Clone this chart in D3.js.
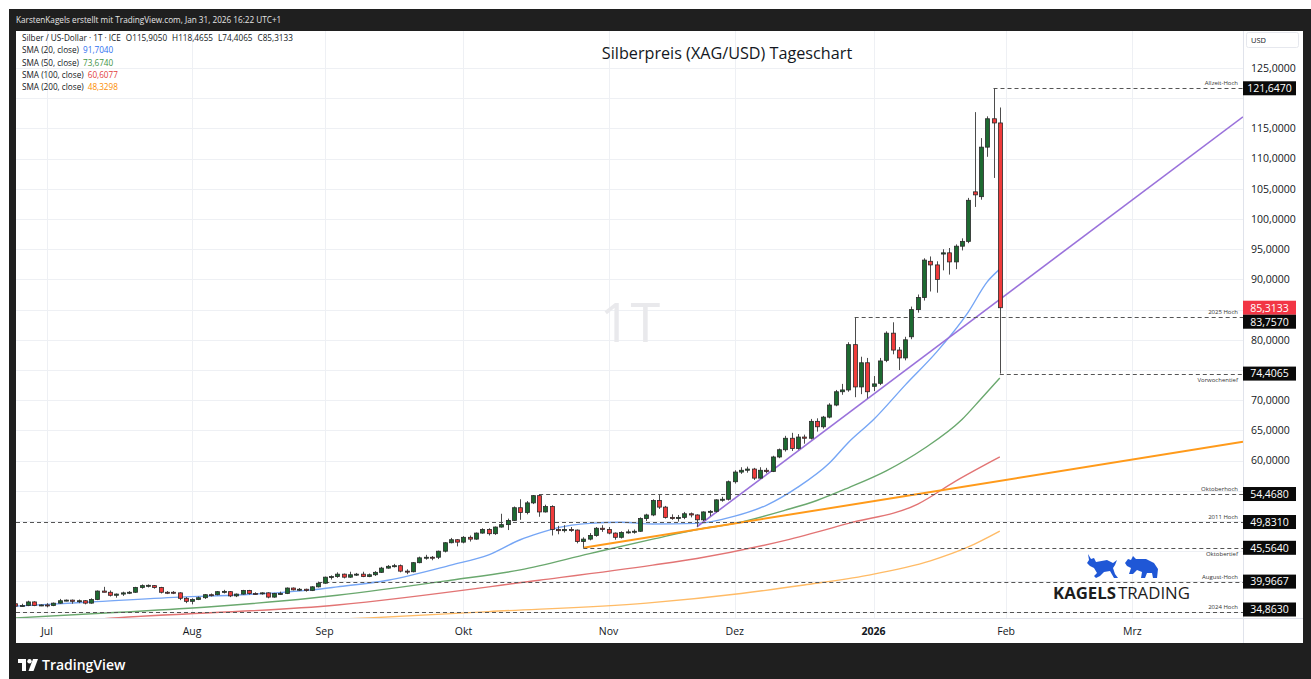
<!DOCTYPE html>
<html lang="de">
<head>
<meta charset="UTF-8">
<title>Silberpreis (XAG/USD) Tageschart</title>
<script src="https://cdn.jsdelivr.net/npm/d3@7"></script>
<style>
  body { margin: 0; background: #ffffff; }
  svg { display: block; font-family: "Open Sans", "Noto Sans", sans-serif; }
</style>
</head>
<body>
<div id="chart"></div>
<script>
// daily candles XAG/USD, Jun 24 2025 .. Jan 30 2026 (weekdays, no Dec 25 / Jan 1)
const opens = [
  36.3, 35.9, 36.0, 36.6, 36.0, 36.1, 36.0, 36.4, 36.8, 36.9,
  36.7, 36.8, 36.4, 37.0, 38.4, 38.2, 37.7, 37.9, 38.1, 38.2,
  39.0, 39.3, 39.3, 39.0, 38.2, 38.2, 38.1, 37.2, 36.7, 37.0,
  37.3, 37.8, 37.8, 38.3, 38.3, 37.6, 37.9, 38.5, 38.0, 38.0,
  38.1, 37.4, 38.0, 38.0, 38.9, 38.6, 38.7, 38.5, 39.1, 39.7,
  40.7, 40.8, 41.2, 40.7, 41.1, 41.2, 40.8, 41.1, 41.5, 42.2,
  42.5, 42.6, 41.7, 41.6, 43.1, 43.9, 44.0, 44.0, 45.0, 46.4,
  46.9, 46.5, 47.3, 47.0, 48.0, 48.6, 47.9, 49.0, 49.4, 50.1,
  52.2, 51.4, 53.0, 54.2, 51.5, 52.4, 48.6, 48.4, 48.6, 48.5,
  46.6, 47.0, 47.6, 48.8, 48.6, 48.0, 47.3, 48.1, 48.2, 48.3,
  50.4, 51.0, 53.4, 52.3, 50.6, 50.4, 50.6, 51.2, 51.0, 50.2,
  51.5, 51.6, 53.5, 53.6, 56.5, 58.1, 58.4, 58.6, 57.1, 58.4,
  58.2, 60.6, 61.8, 63.7, 62.0, 63.9, 63.7, 66.5, 65.6, 67.2,
  69.2, 71.4, 71.7, 79.2, 72.2, 76.2, 72.3, 72.8, 76.6, 81.1,
  78.3, 77.0, 80.5, 85.0, 87.0, 93.0, 92.4, 94.2, 94.4, 92.9,
  95.5, 96.3, 104.5, 103.7, 111.9, 116.6, 115.905
];
const highs = [
  36.4, 36.3, 36.8, 36.7, 36.2, 36.4, 36.5, 37.1, 37.0, 37.0,
  37.0, 36.9, 37.2, 38.5, 39.1, 38.5, 38.0, 38.3, 38.4, 39.1,
  39.5, 39.5, 39.4, 39.1, 38.4, 38.4, 38.2, 37.4, 37.2, 37.5,
  37.9, 38.0, 38.4, 38.6, 38.4, 38.0, 38.6, 38.6, 38.2, 38.2,
  38.2, 38.1, 38.3, 39.0, 39.0, 38.9, 38.8, 39.2, 39.9667, 40.8,
  41.0, 41.5, 41.3, 41.6, 41.4, 41.6, 41.3, 41.7, 42.4, 42.7,
  42.9, 42.8, 42.0, 43.2, 44.1, 44.4, 44.2, 45.1, 46.5, 47.2,
  47.0, 47.5, 47.6, 48.1, 48.8, 48.8, 49.1, 51.2, 50.4, 52.4,
  53.6, 53.3, 54.3, 54.468, 52.7, 52.6, 49.2, 49.3, 49.0, 48.6,
  47.3, 48.0, 49.0, 49.3, 49.0, 48.1, 48.3, 48.6, 48.6, 50.6,
  51.2, 53.6, 54.3, 52.5, 51.1, 51.0, 51.5, 51.4, 51.1, 51.6,
  51.8, 53.6, 54.0, 56.7, 58.4, 58.9, 59.0, 58.8, 58.9, 58.8,
  60.8, 62.0, 64.1, 64.6, 64.4, 64.3, 66.9, 67.0, 67.4, 69.5,
  71.7, 72.7, 79.6, 83.757, 77.2, 77.0, 74.0, 77.0, 81.4, 82.9,
  78.8, 80.5, 85.5, 87.5, 93.5, 93.8, 93.0, 95.0, 95.2, 95.8,
  96.8, 103.5, 117.7, 113.4, 117.0, 121.647, 118.4655
];
const lows = [
  35.8, 35.8, 35.9, 35.9, 35.9, 35.7, 35.9, 36.3, 36.7, 36.3,
  36.4, 36.2, 36.3, 36.9, 38.2, 37.5, 37.3, 37.6, 37.9, 38.1,
  38.8, 39.0, 38.8, 38.0, 37.9, 37.9, 36.9, 36.4, 36.2, 36.9,
  37.1, 37.5, 37.7, 38.0, 37.4, 37.4, 37.8, 37.8, 37.8, 37.8,
  37.2, 37.3, 37.8, 37.9, 38.5, 38.4, 38.3, 38.4, 39.0, 39.6,
  40.3, 40.6, 40.5, 40.6, 40.9, 40.7, 40.7, 40.9, 41.4, 42.1,
  42.3, 41.5, 41.2, 41.5, 43.0, 43.6, 43.5, 43.7, 44.8, 46.3,
  45.8, 46.3, 46.6, 46.9, 47.9, 47.6, 47.7, 48.9, 48.5, 50.0,
  50.2, 51.1, 52.8, 50.7, 51.4, 47.6, 47.8, 48.1, 48.2, 46.3,
  45.564, 46.8, 47.4, 48.2, 47.8, 46.9, 47.1, 47.9, 47.9, 48.2,
  50.0, 50.8, 52.0, 50.4, 50.2, 49.9, 50.3, 50.6, 49.05, 50.0,
  50.8, 51.4, 53.2, 53.4, 56.2, 57.8, 58.0, 56.8, 57.0, 57.9,
  58.1, 60.4, 61.5, 61.6, 61.8, 62.8, 63.5, 64.8, 65.3, 67.0,
  69.0, 70.9, 71.4, 70.5, 71.0, 70.3, 71.5, 72.5, 76.3, 77.6,
  75.0, 76.6, 80.1, 84.5, 86.5, 88.0, 87.8, 91.5, 90.8, 91.7,
  94.8, 96.0, 102.0, 103.2, 110.3, 106.8, 74.4065
];
const closes = [
  35.9, 36.0, 36.6, 36.0, 36.1, 36.0, 36.4, 36.8, 36.9, 36.7,
  36.8, 36.4, 37.0, 38.4, 38.2, 37.7, 37.9, 38.1, 38.2, 39.0,
  39.3, 39.35, 39.0, 38.2, 38.15, 38.1, 37.2, 36.7, 37.0, 37.3,
  37.8, 37.75, 38.3, 38.35, 37.6, 37.9, 38.5, 38.0, 37.95, 38.1,
  37.4, 38.0, 38.0, 38.9, 38.6, 38.7, 38.5, 39.1, 39.7, 40.7,
  40.8, 41.2, 40.7, 41.1, 41.2, 40.8, 41.1, 41.5, 42.2, 42.5,
  42.6, 41.7, 41.6, 43.1, 43.9, 44.0, 43.95, 45.0, 46.4, 46.9,
  46.5, 47.3, 47.0, 48.0, 48.6, 47.9, 49.0, 49.4, 50.1, 52.2,
  51.4, 53.0, 54.2, 51.5, 52.4, 48.6, 48.4, 48.6, 48.5, 46.6,
  47.0, 47.6, 48.8, 48.6, 48.0, 47.3, 48.1, 48.2, 48.3, 50.4,
  51.0, 53.4, 52.3, 50.6, 50.4, 50.6, 51.2, 51.0, 50.2, 51.5,
  51.6, 53.5, 53.6, 56.5, 58.1, 58.4, 58.6, 57.1, 58.4, 58.2,
  60.6, 61.8, 63.7, 62.0, 63.9, 63.7, 66.5, 65.6, 67.2, 69.2,
  71.4, 71.7, 79.2, 72.2, 76.2, 71.4, 72.7, 76.5, 81.1, 78.3,
  77.0, 80.0, 85.0, 87.0, 93.2, 92.4, 90.0, 94.4, 92.9, 95.5,
  96.3, 103.1, 104.0, 111.9, 116.6, 115.905, 85.3133
];
const firstDay = "2025-06-24";
const holidays = ["2025-12-25", "2026-01-01"];

// moving averages: [bar index, value]
const sma20 = [[0,35.9],[12,36.6],[26,37.4],[36,37.8],[47,38.6],[51,39.1],[59,40.2],[69,42.7],[75,44.4],[80,46.9],[83,48.0],[86,48.9],[91,49.6],[96,49.8],[101,49.5],[108,49.6],[114,50.8],[119,52.6],[124,55.6],[129,59.6],[132,63.0],[136,66.8],[141,72.5],[146,78.0],[151,84.6],[154,89.6],[156,91.704]];
const sma50 = [[0,33.95],[15,34.8],[31,35.8],[47,37.25],[51,37.7],[69,40.2],[80,41.9],[91,44.6],[101,47.0],[108,48.6],[114,49.6],[122,51.8],[127,53.4],[132,55.5],[138,58.3],[144,62.0],[150,66.8],[153,70.2],[156,73.674]];
const sma100 = [[0,32.7],[15,33.9],[51,36.1],[83,40.2],[101,42.7],[108,43.8],[122,46.8],[132,49.6],[143,52.8],[149,56.6],[156,60.6077]];
const sma200 = [[40,33.3],[56,33.95],[75,35.0],[100,36.4],[115,38.0],[125,39.4],[135,41.0],[145,43.4],[151,45.7],[156,48.3298]];
const smaNames = ["SMA (20, close)", "SMA (50, close)", "SMA (100, close)", "SMA (200, close)"];

// drawn trend lines: [date, price] anchors
const purpleTrend = [["2025-11-21", 49.05], ["2026-01-30", 86.7]];
const orangeTrend = [["2025-10-28", 45.564], ["2026-01-30", 56.65]];

// marked price levels
const levelPrices = [121.647, 83.757, 74.4065, 54.468, 49.831, 45.564, 39.9667, 34.863];
const levelNames = ["Allzeit-Hoch", "2025 Hoch", "Vorwochentief", "Oktoberhoch", "2011 Hoch", "Oktobertief", "August-Hoch", "2024 Hoch"];
const levelFrom = ["2026-01-29", "2025-12-29", "2026-01-30", "2025-10-17", null, "2025-10-28", "2025-08-29", null];
const levelBelow = [false, false, true, false, false, true, false, false];

const priceTicks = [35, 40, 45, 50, 55, 60, 65, 70, 75, 80, 85, 90, 95, 100, 105, 110, 115, 120, 125];
const monthKeys = ["2025-07", "2025-08", "2025-09", "2025-10", "2025-11", "2025-12", "2026-01", "2026-02", "2026-03"];
const monthLabels = ["Jul", "Aug", "Sep", "Okt", "Nov", "Dez", "2026", "Feb", "Mrz"];

// ---------------------------------------------------------------
const W = 1311, H = 679;
const plot = { x0: 16, x1: 1243, y0: 31, y1: 618 };

const fmtDay = d3.timeFormat("%Y-%m-%d");
const fmtMonth = d3.timeFormat("%Y-%m");
const days = d3.timeDay.range(d3.timeParse("%Y-%m-%d")(firstDay), new Date(2026, 3, 1))
  .filter(d => d.getDay() !== 0 && d.getDay() !== 6 && !holidays.includes(fmtDay(d)));
const idxOf = s => days.findIndex(d => fmtDay(d) === s);

const de = d3.formatLocale({ decimal: ",", thousands: ".", grouping: [3], currency: ["", ""] });
const f4 = de.format(".4f");

// bar 5 (Jul 1) sits at x=47, 6.31px per bar
const x = d3.scaleLinear().domain([0.087, 194.54]).range([plot.x0, plot.x1]);
const y = d3.scaleLinear().domain([33.94, 131.13]).range([plot.y1, plot.y0]);

const svg = d3.select("#chart").append("svg").attr("width", W).attr("height", H);

// frame
svg.append("rect").attr("width", W).attr("height", H).attr("fill", "#ffffff");
svg.append("rect").attr("x", 9).attr("y", 9).attr("width", W - 9).attr("height", H - 9).attr("fill", "#1f1f1f");
svg.append("rect").attr("x", 16).attr("y", 31).attr("width", 1287).attr("height", 612).attr("fill", "#ffffff");

svg.append("text").attr("x", 16).attr("y", 22.5)
  .attr("font-size", 8.2).attr("fill", "#e6e6e6")
  .text("KarstenKagels erstellt mit TradingView.com, Jan 31, 2026 16:22 UTC+1");

svg.append("defs").append("clipPath").attr("id", "clip")
  .append("rect").attr("x", plot.x0).attr("y", plot.y0)
  .attr("width", plot.x1 - plot.x0).attr("height", plot.y1 - plot.y0);

// grid
const monthIdx = monthKeys.map(m => days.findIndex(d => fmtMonth(d) === m));
const grid = svg.append("g").attr("clip-path", "url(#clip)");
grid.selectAll("line.h").data(priceTicks).join("line")
  .attr("x1", plot.x0).attr("x2", plot.x1)
  .attr("y1", d => Math.round(y(d)) + 0.5).attr("y2", d => Math.round(y(d)) + 0.5)
  .attr("stroke", "#eef0f4").attr("stroke-width", 1);
grid.selectAll("line.v").data(monthIdx).join("line")
  .attr("x1", d => Math.round(x(d)) + 0.5).attr("x2", d => Math.round(x(d)) + 0.5)
  .attr("y1", plot.y0).attr("y2", plot.y1)
  .attr("stroke", "#eef0f4").attr("stroke-width", 1);

// watermark
svg.append("text").attr("x", 630).attr("y", 342).attr("text-anchor", "middle")
  .attr("font-size", 54).attr("fill", "#e9e9ec").text("1T");

const g = svg.append("g").attr("clip-path", "url(#clip)");

// moving averages
const smaSeries = [sma20, sma50, sma100, sma200];
const smaColors = ["#76a6f5", "#6aa86e", "#e27474", "#ffbb66"];
const smaValueColors = ["#2f6ff0", "#3f9445", "#e23b3b", "#fb8c00"];
const smaLine = d3.line().x(d => x(d[0])).y(d => y(d[1])).curve(d3.curveMonotoneX);
smaSeries.forEach((s, k) => {
  g.append("path").attr("d", smaLine(s)).attr("fill", "none")
    .attr("stroke", smaColors[k]).attr("stroke-width", 1.4);
});

// trend lines, extended to the right edge
const lastIdx = x.domain()[1];
function trend(anchor) {
  const i0 = idxOf(anchor[0][0]), i1 = idxOf(anchor[1][0]);
  const slope = (anchor[1][1] - anchor[0][1]) / (i1 - i0);
  return [[i0, anchor[0][1]], [lastIdx, anchor[0][1] + slope * (lastIdx - i0)]];
}
const straight = d3.line().x(d => x(d[0])).y(d => y(d[1]));
g.append("path").attr("d", straight(trend(orangeTrend))).attr("stroke", "#ff9a1a")
  .attr("stroke-width", 2).attr("fill", "none");
g.append("path").attr("d", straight(trend(purpleTrend))).attr("stroke", "#9a72db")
  .attr("stroke-width", 1.6).attr("fill", "none");

// level lines
const levels = levelPrices.map((p, k) => ({
  p, name: levelNames[k], below: levelBelow[k],
  from: levelFrom[k] ? x(idxOf(levelFrom[k])) : plot.x0
}));
g.selectAll("line.lvl").data(levels).join("line")
  .attr("x1", d => d.from).attr("x2", plot.x1)
  .attr("y1", d => Math.round(y(d.p)) + 0.5).attr("y2", d => Math.round(y(d.p)) + 0.5)
  .attr("stroke", "#555").attr("stroke-width", 1).attr("stroke-dasharray", "4,3");
svg.selectAll("text.lvl").data(levels).join("text")
  .attr("x", plot.x1 - 5).attr("y", d => y(d.p) + (d.below ? 8 : -3))
  .attr("text-anchor", "end").attr("font-size", 6).attr("fill", "#333").text(d => d.name);

// candles
const candles = closes.map((c, i) => ({ i, o: opens[i], h: highs[i], l: lows[i], c }));
g.selectAll("line.wick").data(candles).join("line")
  .attr("x1", d => Math.round(x(d.i)) + 0.5).attr("x2", d => Math.round(x(d.i)) + 0.5)
  .attr("y1", d => y(d.h)).attr("y2", d => y(d.l))
  .attr("stroke", "#4d4d4d").attr("stroke-width", 1);
g.selectAll("rect.body").data(candles).join("rect")
  .attr("x", d => Math.round(x(d.i)) - 1.5)
  .attr("width", 4)
  .attr("y", d => y(Math.max(d.o, d.c)))
  .attr("height", d => Math.max(1, Math.abs(y(d.o) - y(d.c))))
  .attr("fill", d => d.c >= d.o ? "#1d6a31" : "#f03b3b")
  .attr("stroke", "#2a2a2a").attr("stroke-width", 0.8);

// axes borders
svg.append("line").attr("x1", plot.x0).attr("x2", 1303).attr("y1", plot.y1 + 0.5).attr("y2", plot.y1 + 0.5)
  .attr("stroke", "#e0e3eb");
svg.append("line").attr("x1", plot.x1 + 0.5).attr("x2", plot.x1 + 0.5).attr("y1", plot.y0).attr("y2", 643)
  .attr("stroke", "#e0e3eb");

// price boxes, spread so they do not overlap
const lastClose = closes[closes.length - 1];
const boxes = levels.map(d => ({ p: d.p, cur: false }))
  .concat([{ p: lastClose, cur: true }])
  .map(d => ({ ...d, yy: y(d.p) }))
  .sort((a, b) => a.yy - b.yy);
for (let k = 1; k < boxes.length; k++) {
  if (boxes[k].yy < boxes[k - 1].yy + 14) boxes[k].yy = boxes[k - 1].yy + 14;
}
boxes.forEach(b => { b.yy = Math.min(b.yy, plot.y1 - 8.5); });

// price axis: tick labels hidden where a box covers them
const visibleTicks = priceTicks.filter(v => boxes.every(b => Math.abs(b.yy - y(v)) > 12));
svg.selectAll("text.py").data(visibleTicks).join("text")
  .attr("x", 1251).attr("y", d => y(d) + 3.8)
  .attr("font-size", 10.5).attr("fill", "#131722").text(d => f4(d));
svg.append("rect").attr("x", 1246.5).attr("y", 32.5).attr("width", 52).attr("height", 15).attr("rx", 2)
  .attr("fill", "#fff").attr("stroke", "#e6e8ee");
svg.append("text").attr("x", 1251).attr("y", 43).attr("font-size", 7.5).attr("fill", "#131722").text("USD");

const bx = svg.selectAll("g.box").data(boxes).join("g");
bx.append("rect").attr("x", plot.x1).attr("y", d => d.yy - 7).attr("width", 53).attr("height", 14)
  .attr("fill", d => d.cur ? "#f23645" : "#0a0a0a");
bx.append("text").attr("x", plot.x1 + 26.5).attr("y", d => d.yy + 3.8).attr("text-anchor", "middle")
  .attr("font-size", 10.5).attr("fill", "#fff").text(d => f4(d.p));

// time axis
svg.selectAll("text.tx").data(monthIdx).join("text")
  .attr("x", d => x(d)).attr("y", 634.5).attr("text-anchor", "middle")
  .attr("font-size", 10.5).attr("fill", "#131722")
  .attr("font-weight", (d, k) => monthLabels[k] === "2026" ? 700 : 400)
  .text((d, k) => monthLabels[k]);

// title
svg.append("text").attr("x", 727).attr("y", 58.5).attr("text-anchor", "middle")
  .attr("font-size", 16.2).attr("fill", "#131722").text("Silberpreis (XAG/USD) Tageschart");

// legend
const last = candles[candles.length - 1];
const leg = svg.append("g").attr("font-size", 8.2).attr("fill", "#131722");
const l1 = leg.append("text").attr("x", 22).attr("y", 41);
l1.append("tspan").text("Silber / US-Dollar · 1T · ICE");
[["O", last.o], ["H", last.h], ["L", last.l], ["C", last.c]].forEach(([k, v]) => {
  l1.append("tspan").attr("dx", 5).text(k + f4(v));
});
smaSeries.forEach((s, k) => {
  const t = leg.append("text").attr("x", 22).attr("y", 53.3 + k * 12.2);
  t.append("tspan").text(smaNames[k]);
  t.append("tspan").attr("dx", 4).attr("fill", smaValueColors[k]).text(f4(s[s.length - 1][1]));
});

// Kagels Trading logo
const logo = svg.append("g");
logo.append("path").attr("transform", "translate(1086,554)")
  .attr("d", "M2,0 L5,5 L8,4 L10,8 L21,6 L27,9 L31,6 L29,11 L27,14 L29,20 L32,24 L28,24 L24,17 L18,18 L14,22 L10,24 L8,22 L11,19 L8,14 L4,12 L1,9 L3,6 Z")
  .attr("fill", "#1f57d6");
logo.append("path").attr("transform", "translate(1125,556)")
  .attr("d", "M0,7 L3,3 L6,4 L8,0 L11,3 L21,3 L29,7 L33,13 L32,22 L28,22 L27,17 L22,17 L20,22 L16,22 L17,16 L12,14 L8,18 L4,18 L6,12 L2,10 Z")
  .attr("fill", "#1f57d6");
const lt = logo.append("text").attr("x", 1053).attr("y", 599).attr("font-size", 16.8).attr("fill", "#1d1d1d");
lt.append("tspan").attr("font-weight", 700).text("KAGELS");
lt.append("tspan").attr("dx", 2).attr("font-weight", 400).text("TRADING");

// TradingView footer
const tv = svg.append("g").attr("transform", "translate(18,659)").attr("fill", "#ffffff");
tv.append("path").attr("d", "M0,0 H8 V12 H4 V4 H0 Z");
tv.append("circle").attr("cx", 11.5).attr("cy", 2.2).attr("r", 2.2);
tv.append("path").attr("d", "M15,0 H20 L15.5,12 H10.5 Z");
svg.append("text").attr("x", 42).attr("y", 670).attr("font-size", 14).attr("font-weight", 600)
  .attr("fill", "#ffffff").text("TradingView");
</script>
</body>
</html>
